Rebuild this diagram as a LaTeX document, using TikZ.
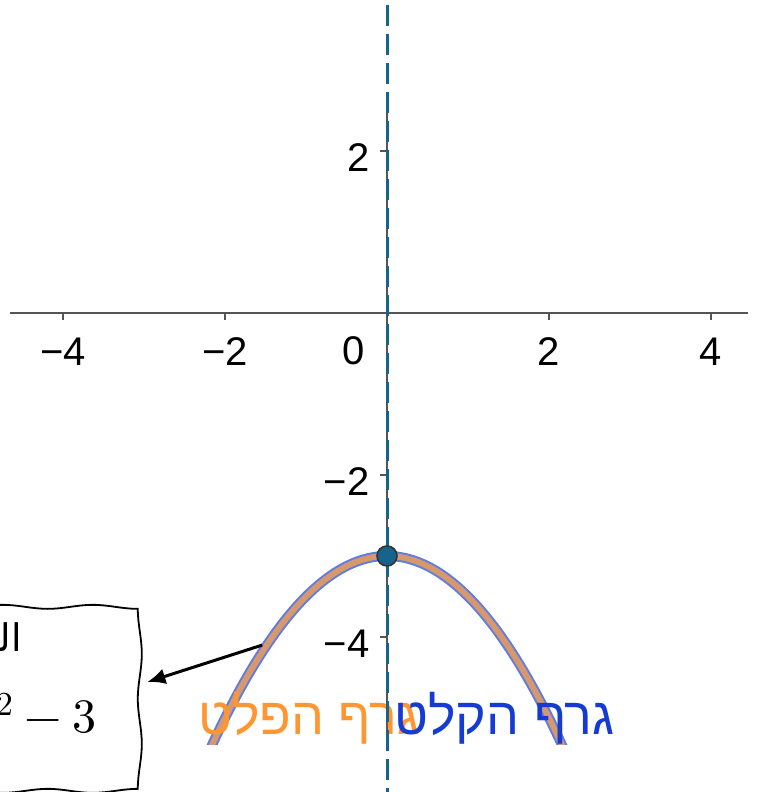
\documentclass[tikz,border=0pt]{standalone}
\usepackage{fontspec}
\usepackage{unicode-math}
\setmainfont{Liberation Sans}
\setmathfont{Latin Modern Math}
\newfontfamily\hebfont[Script=Hebrew]{Liberation Sans}
\newfontfamily\arabicfont[Script=Arabic]{DejaVu Sans}
\TeXXeTstate=1
\usetikzlibrary{decorations.pathmorphing,arrows.meta}
\definecolor{axisgray}{RGB}{85,85,85}
\definecolor{symblue}{RGB}{22,100,140}
\definecolor{curveorange}{RGB}{214,152,108}
\definecolor{curveblue}{RGB}{95,125,225}
\definecolor{inblue}{RGB}{20,60,210}
\definecolor{outorange}{RGB}{255,150,50}
\tikzset{
  axis/.style={
    line width = 1.2pt,
    axisgray
  },
  tickmark/.style={
    line width = 1pt,
    axisgray
  },
  ticklabel/.style={
    font = \fontsize{20}{24}\selectfont,
    inner sep = 0pt
  },
  symline/.style={
    symblue,
    line width = 1.5pt,
    dash pattern = on 10.5pt off 4pt
  },
  vertexdot/.style={
    circle,
    fill = symblue,
    draw = black!80,
    line width = 0.8pt,
    inner sep = 0pt,
    minimum size = 10pt
  },
  graphlabel/.style={
    font = \hebfont\fontsize{26}{30}\selectfont,
    inner sep = 0pt,
    anchor = base east
  },
  callout/.style={
    draw,
    line width = 0.9pt,
    decorate,
    decoration = {snake, amplitude=1pt, segment length=45pt},
    anchor = north east,
    minimum width = 142pt,
    minimum height = 93.5pt
  }
}

\begin{document}
\begin{tikzpicture}[x=40.5pt,y=40.5pt]
    \def\xmin{-4.654}
    \def\xmax{4.457}
    \def\ytop{2.691}
    \def\ybot{-5.333}
    \def\tl{0.086}
    \useasboundingbox (-4.778,-5.914) rectangle (4.605,3.864);
    % parabola
    \begin{scope}
    \clip (\xmin,\ybot) rectangle (\xmax,\ytop);
    \draw[curveblue, line width=5pt] plot[domain=-2.3:2.3, samples=90] (\x,{-0.5*\x*\x-3});
    \draw[curveorange, line width=3pt] plot[domain=-2.3:2.3, samples=90] (\x,{-0.5*\x*\x-3});
    \end{scope}
    % axes
    \draw[axis] (\xmin,0) -- (\xmax,0);
    \draw[axis] (0,\ybot) -- (0,\ytop);
    \foreach \x/\t [count=\i] in {-4/−4,-2/−2,2/2,4/4}{
    \draw[tickmark] (\x,0) --++ (0,-\tl);
    \node[ticklabel] (xl\i) at (\x,-0.48) {\t};}
    \node[ticklabel] (xl0) at (-0.407,-0.46) {0};
    \foreach \y/\t [count=\i] in {2/2,-2/−2,-4/−4}{
    \draw[tickmark] (0,\y) --++ (-\tl,0);
    \node[ticklabel, anchor=east] (yl\i) at (-0.21,\y-0.08) {\t};}
    % graph names
    \node[graphlabel, outorange] (outlabel) at (0.407,-5.21) {\beginR גרף הפלט\endR};
    \node[graphlabel, inblue] (inlabel) at (2.815,-5.21) {\beginR גרף הקלט\endR};
    % axis of symmetry and vertex
    \draw[symline] (0,3.80) -- (0,-5.95);
    \node[vertexdot] (vertex) at (0,-3) {};
    % callout
    \node[callout] (callout) at (-3.24,-3.58) {};
    \node[anchor=base east, inner sep=0pt, font=\arabicfont\fontsize{19}{22}\selectfont] (calloutname) at (-4.506,-4.185) {\beginR الدالة\endR};
    \node[anchor=base east, inner sep=0pt, font=\fontsize{24}{28}\selectfont] (calloutrule) at (-3.58,-5.185) {$y=-0.5x^2-3$};
    \coordinate (arrowstart) at (-1.54,-4.10);
    \draw[-{Latex[length=9pt,width=8pt]}, line width=1.5pt, shorten >=12pt] (arrowstart) -- ([yshift=4pt]callout.east);
\end{tikzpicture}
\end{document}
